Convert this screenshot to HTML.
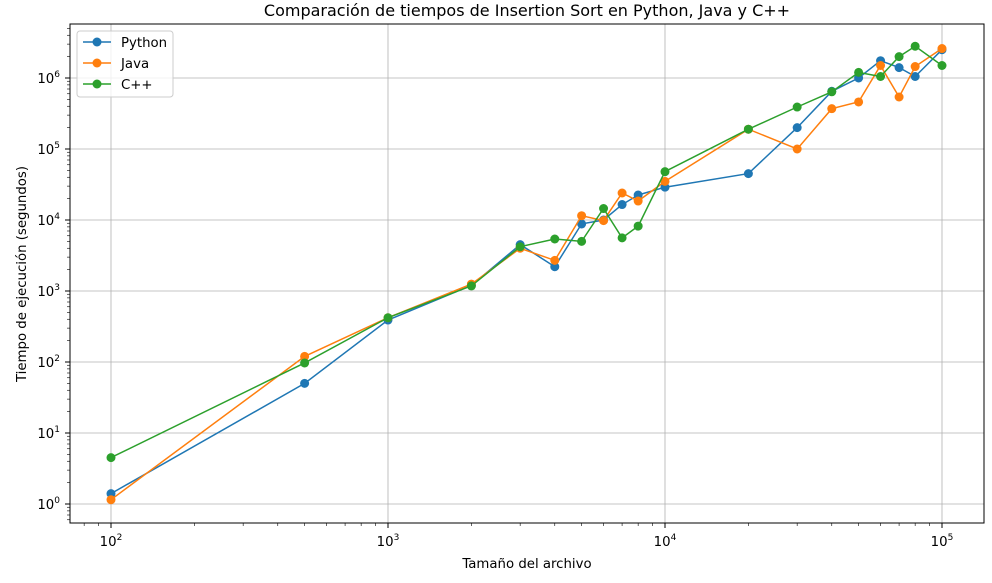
<!DOCTYPE html>
<html><head><meta charset="utf-8"><style>
body{margin:0;background:#fff;}
svg{font-family:"DejaVu Sans","Liberation Sans",sans-serif;}
</style></head><body>
<svg id="chart" width="992" height="578" xmlns="http://www.w3.org/2000/svg">
<rect width="992" height="578" fill="#fff"/>
<text x="527" y="16" text-anchor="middle" font-size="16" fill="#000">Comparación de tiempos de Insertion Sort en Python, Java y C++</text>
<text x="527" y="568" text-anchor="middle" font-size="13.3">Tamaño del archivo</text>
<text transform="translate(26,274) rotate(-90)" text-anchor="middle" font-size="13.3">Tiempo de ejecución (segundos)</text>
<g id="grid"></g><g id="axes"></g><g id="series"></g>
<rect x="70" y="24" width="914" height="499" fill="none" stroke="#000" stroke-width="1"/>
<g>
<rect x="77" y="31" width="96" height="66" rx="3" fill="#fff" fill-opacity="0.8" stroke="#ccc"/>
<g><line x1="83" y1="42" x2="111" y2="42" stroke="#1f77b4" stroke-width="1.5"/><circle cx="97" cy="42" r="4.5" fill="#1f77b4"/><text x="121" y="47" font-size="13.3">Python</text></g>
<g><line x1="83" y1="63" x2="111" y2="63" stroke="#ff7f0e" stroke-width="1.5"/><circle cx="97" cy="63" r="4.5" fill="#ff7f0e"/><text x="121" y="68" font-size="13.3">Java</text></g>
<g><line x1="83" y1="84" x2="111" y2="84" stroke="#2ca02c" stroke-width="1.5"/><circle cx="97" cy="84" r="4.5" fill="#2ca02c"/><text x="121" y="89" font-size="13.3">C++</text></g>
</g>
</svg>
<script>
const sizes=[100,500,1000,2000,3000,4000,5000,6000,7000,8000,10000,20000,30000,40000,50000,60000,70000,80000,100000];
const pythonTimes=[1.4,50,390,1200,4500,2200,8800,10000,16500,22500,29000,45000,200000,650000,1000000,1750000,1400000,1050000,2500000];
const javaTimes=[1.15,120,420,1250,4000,2700,11500,9800,24000,18500,35000,190000,100000,370000,460000,1500000,540000,1450000,2600000];
const cppTimes=[4.5,97,420,1180,4200,5400,5000,14500,5600,8200,48000,190000,390000,640000,1200000,1050000,2000000,2800000,1500000];
const xTickExps=[2,3,4,5];
const yTickExps=[0,1,2,3,4,5,6];
const NS="http://www.w3.org/2000/svg";
function X(v){return 111+277*(Math.log10(v)-2);}
function Y(v){return 504-71*Math.log10(v);}
function mk(tag,attrs,parent){const e=document.createElementNS(NS,tag);for(const k in attrs)e.setAttribute(k,attrs[k]);parent.appendChild(e);return e;}
const grid=document.getElementById('grid'),axes=document.getElementById('axes'),ser=document.getElementById('series');
xTickExps.forEach(p=>{const x=X(Math.pow(10,p));
 const g=mk('line',{x1:x,x2:x,y1:24,y2:523,stroke:'#b0b0b0','stroke-width':0.8},grid);
 
 
 mk('line',{x1:x,x2:x,y1:523,y2:528,stroke:'#000'},axes);
 const t=mk('text',{x:x,y:546,'text-anchor':'middle','font-size':13.3},axes);
 
 
 t.innerHTML='10<tspan dy="-6" font-size="9">'+p+'</tspan>';
});
for(let p=1;p<=5;p++)for(let m=2;m<=9;m++){const v=m*Math.pow(10,p);const x=X(v);if(x<70||x>984)continue;mk('line',{x1:x,x2:x,y1:523,y2:526,stroke:'#000','stroke-width':0.6},axes);}
yTickExps.forEach(p=>{const y=Y(Math.pow(10,p));
 const g=mk('line',{x1:70,x2:984,y1:y,y2:y,stroke:'#b0b0b0','stroke-width':0.8},grid);
 
 
 mk('line',{x1:65,x2:70,y1:y,y2:y,stroke:'#000'},axes);
 const t=mk('text',{x:60,y:y+5,'text-anchor':'end','font-size':13.3},axes);
 
 
 t.innerHTML='10<tspan dy="-6" font-size="9">'+p+'</tspan>';
});
for(let p=-1;p<=6;p++)for(let m=2;m<=9;m++){const y=Y(m*Math.pow(10,p));if(y<24||y>523)continue;mk('line',{x1:67,x2:70,y1:y,y2:y,stroke:'#000','stroke-width':0.6},axes);}
function drawSeries(vals,color,name){
 const g=mk('g',{},ser);
 
 
 const pts=sizes.map((s,i)=>X(s).toFixed(1)+','+Y(vals[i]).toFixed(1)).join(' ');
 mk('polyline',{points:pts,fill:'none',stroke:color,'stroke-width':1.5},g);
 sizes.forEach((s,i)=>{const c=mk('circle',{cx:X(s),cy:Y(vals[i]),r:4.5,fill:color},g);
  
  });
}
drawSeries(pythonTimes,'#1f77b4','python-series');
drawSeries(javaTimes,'#ff7f0e','java-series');
drawSeries(cppTimes,'#2ca02c','cpp-series');
</script>
</body></html>
